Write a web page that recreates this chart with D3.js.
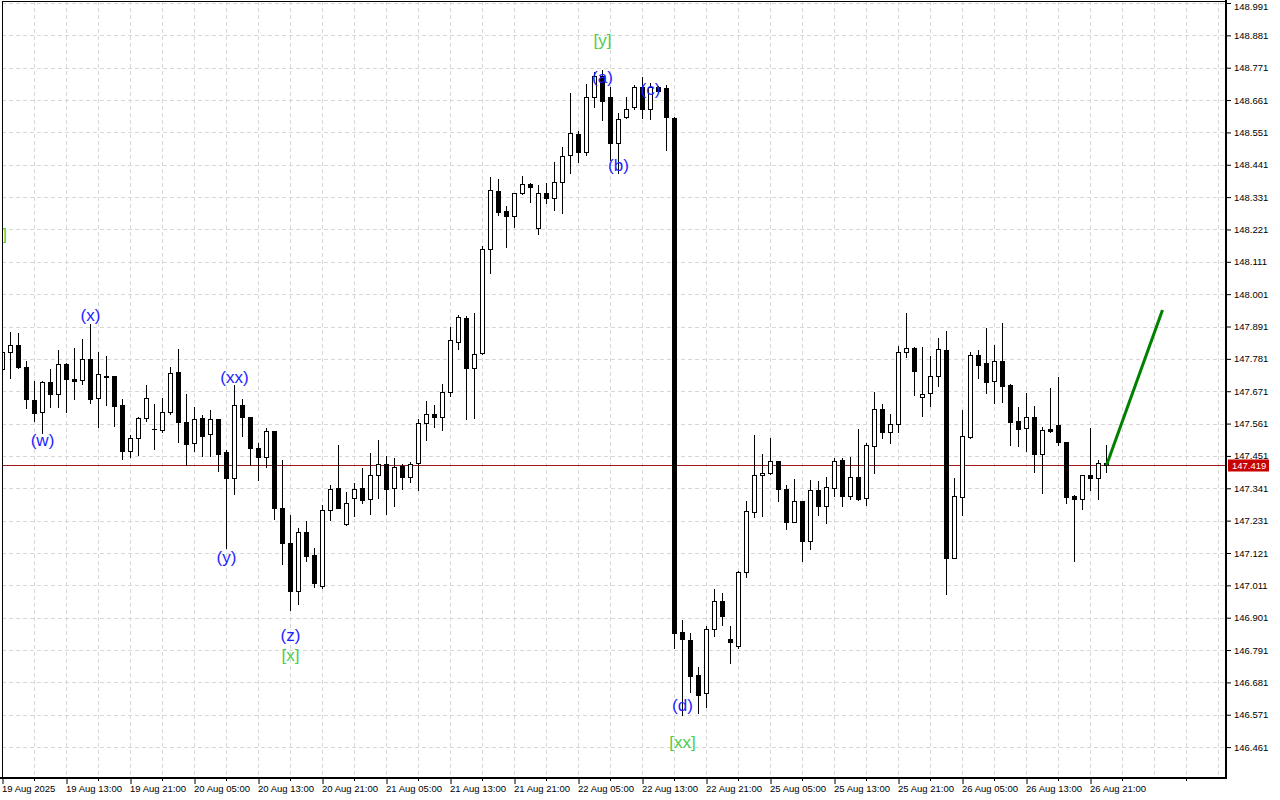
<!DOCTYPE html>
<html>
<head>
<meta charset="utf-8">
<script src="https://cdn.jsdelivr.net/npm/d3@7/dist/d3.min.js"></script>
<style>
  html, body { margin: 0; padding: 0; background: #ffffff; }
  svg { display: block; }
</style>
</head>
<body>
<svg id="chart" width="1280" height="800"></svg>
<script>
// ---------------- DATA ----------------
const priceTicks = [148.991, 148.881, 148.771, 148.661, 148.551, 148.441, 148.331, 148.221, 148.111, 148.001,
  147.891, 147.781, 147.671, 147.561, 147.451, 147.341, 147.231, 147.121, 147.011, 146.901,
  146.791, 146.681, 146.571, 146.461];

const timeLabels = ["19 Aug 2025", "19 Aug 13:00", "19 Aug 21:00", "20 Aug 05:00", "20 Aug 13:00", "20 Aug 21:00",
  "21 Aug 05:00", "21 Aug 13:00", "21 Aug 21:00", "22 Aug 05:00", "22 Aug 13:00", "22 Aug 21:00",
  "25 Aug 05:00", "25 Aug 13:00", "25 Aug 21:00", "26 Aug 05:00", "26 Aug 13:00", "26 Aug 21:00"];

const open = [147.746,147.803,147.828,147.754,147.641,147.599,147.702,147.660,147.762,147.711,
  147.708,147.779,147.649,147.724,147.722,147.624,147.469,147.511,147.579,147.544,
  147.538,147.599,147.735,147.565,147.494,147.579,147.524,147.575,147.464,147.375,
  147.623,147.582,147.477,147.446,147.536,147.273,147.154,146.993,147.191,147.114,
  147.010,147.267,147.341,147.218,147.307,147.341,147.303,147.385,147.422,147.341,
  147.417,147.380,147.426,147.562,147.592,147.584,147.667,147.837,147.919,147.751,
  147.800,148.153,148.352,148.284,148.268,148.344,148.375,148.227,148.344,148.329,
  148.383,148.474,148.545,148.483,148.672,148.743,148.670,148.514,148.602,148.636,
  148.704,148.629,148.704,148.701,148.599,146.851,146.825,146.706,146.644,146.861,
  146.957,146.828,146.806,147.057,147.261,147.385,147.392,147.434,147.338,147.227,
  147.298,147.163,147.335,147.282,147.343,147.437,147.315,147.378,147.307,147.486,
  147.610,147.531,147.558,147.803,147.817,147.652,147.664,147.724,147.811,147.105,
  147.312,147.516,147.794,147.768,147.707,147.774,147.692,147.570,147.545,147.582,
  147.457,147.542,147.556,147.499,147.316,147.303,147.386,147.375,147.428];

const high = [147.869,147.873,147.868,147.774,147.706,147.706,147.745,147.811,147.768,147.817,
  147.847,147.899,147.805,147.791,147.724,147.643,147.522,147.584,147.692,147.627,
  147.647,147.752,147.814,147.661,147.616,147.590,147.607,147.576,147.471,147.692,
  147.643,147.583,147.494,147.545,147.536,147.437,147.250,147.205,147.230,147.137,
  147.284,147.352,147.488,147.327,147.360,147.409,147.462,147.505,147.451,147.443,
  147.422,147.430,147.576,147.638,147.624,147.695,147.890,147.930,147.927,147.938,
  148.165,148.400,148.392,148.302,148.345,148.404,148.380,148.372,148.378,148.451,
  148.502,148.684,148.557,148.715,148.756,148.763,148.704,148.618,148.672,148.711,
  148.740,148.718,148.709,148.712,148.603,146.893,146.848,146.732,146.873,146.997,
  146.984,146.873,147.060,147.298,147.522,147.457,147.513,147.435,147.352,147.372,
  147.299,147.369,147.366,147.380,147.445,147.445,147.448,147.541,147.494,147.669,
  147.627,147.593,147.826,147.938,147.822,147.822,147.792,147.853,147.876,147.375,
  147.607,147.805,147.811,147.885,147.828,147.904,147.695,147.618,147.666,147.621,
  147.548,147.681,147.720,147.500,147.317,147.387,147.545,147.437,147.488];

const low = [147.736,147.717,147.750,147.613,147.571,147.530,147.618,147.618,147.599,147.644,
  147.694,147.632,147.548,147.624,147.553,147.440,147.448,147.454,147.570,147.475,
  147.532,147.592,147.499,147.420,147.469,147.451,147.451,147.401,147.137,147.321,
  147.520,147.420,147.369,147.412,147.235,147.082,146.927,146.946,147.095,147.006,
  147.003,147.233,147.274,147.216,147.247,147.292,147.252,147.309,147.252,147.281,
  147.339,147.363,147.335,147.505,147.550,147.539,147.656,147.814,147.577,147.581,
  147.796,148.074,148.270,148.162,148.230,148.343,148.315,148.204,148.312,148.287,
  148.278,148.412,148.451,148.474,148.638,148.593,148.457,148.412,148.600,148.630,
  148.599,148.595,148.688,148.491,146.799,146.570,146.647,146.576,146.598,146.839,
  146.876,146.748,146.799,147.040,147.244,147.248,147.390,147.299,147.203,147.226,
  147.095,147.134,147.250,147.222,147.315,147.281,147.304,147.302,147.284,147.394,
  147.513,147.496,147.533,147.786,147.658,147.587,147.621,147.689,146.981,147.104,
  147.250,147.513,147.717,147.666,147.632,147.635,147.488,147.485,147.469,147.397,
  147.324,147.533,147.488,147.290,147.095,147.269,147.335,147.303,147.395];

const close = [147.804,147.828,147.754,147.643,147.596,147.702,147.660,147.762,147.711,147.707,
  147.779,147.645,147.728,147.721,147.621,147.469,147.513,147.580,147.647,147.541,
  147.599,147.732,147.565,147.492,147.575,147.520,147.575,147.458,147.375,147.623,
  147.582,147.477,147.446,147.535,147.273,147.154,146.993,147.191,147.112,147.020,
  147.267,147.337,147.275,147.290,147.337,147.300,147.385,147.422,147.339,147.414,
  147.380,147.423,147.562,147.592,147.584,147.667,147.845,147.922,147.751,147.796,
  148.154,148.355,148.281,148.268,148.344,148.375,148.364,148.344,148.329,148.381,
  148.471,148.548,148.483,148.670,148.743,148.659,148.514,148.597,148.631,148.704,
  148.629,148.704,148.693,148.604,146.850,146.827,146.704,146.638,146.861,146.959,
  146.908,146.819,147.057,147.264,147.386,147.394,147.435,147.337,147.227,147.299,
  147.163,147.335,147.282,147.344,147.435,147.315,147.378,147.304,147.488,147.610,
  147.533,147.558,147.803,147.817,147.741,147.660,147.724,147.813,147.105,147.315,
  147.519,147.794,147.760,147.703,147.774,147.690,147.567,147.542,147.582,147.457,
  147.539,147.537,147.497,147.312,147.303,147.386,147.375,147.426,147.419];

// wave labels: text, bar index, price level
const waveText  = ["(w)", "(x)", "(xx)", "(y)", "(z)", "(a)", "(b)", "(c)", "(d)"];
const waveBar   = [5, 11, 29, 28, 36, 75, 77, 81, 85];
const wavePrice = [147.502, 147.927, 147.719, 147.107, 146.839, 148.739, 148.437, 148.698, 146.601];

// major-degree labels (the first one is only partly visible at the left edge in the source)
const majorText  = ["]", "[x]", "[y]", "[xx]"];
const majorBar   = [0.25, 36, 75, 85];
const majorPrice = [148.205, 146.771, 148.865, 146.475];

// projection
const projBar   = [138, 145];
const projPrice = [147.419, 147.947];

// ---------------- CHART ----------------
const svg = d3.select("#chart");
const W = 1280, H = 800;
const plotL = 2, plotR = 1226, plotT = 1, plotB = 778;

svg.append("rect").attr("x", 0).attr("y", 0).attr("width", W).attr("height", H).attr("fill", "#ffffff");

const x = d3.scaleLinear().domain([0, 1]).range([2.5, 10.5]);
const y = d3.scaleLinear().domain([146.461, 148.991]).range([747.1, 3]);
const py = v => Math.round(y(v)) + 0.5;

svg.append("defs").append("clipPath").attr("id", "clip")
  .append("rect").attr("x", plotL).attr("y", plotT).attr("width", plotR - plotL).attr("height", plotB - plotT);

const plot = svg.append("g").attr("clip-path", "url(#clip)");

// grid
const gridColor = "#d8d8d8";
plot.append("g").selectAll("line").data(priceTicks).join("line")
  .attr("x1", plotL).attr("x2", plotR)
  .attr("y1", d => py(d)).attr("y2", d => py(d))
  .attr("stroke", gridColor).attr("stroke-width", 1).attr("stroke-dasharray", "4,3");

const vGrid = d3.range(0, 153, 4);
plot.append("g").selectAll("line").data(vGrid).join("line")
  .attr("x1", d => x(d)).attr("x2", d => x(d))
  .attr("y1", plotT).attr("y2", plotB)
  .attr("stroke", gridColor).attr("stroke-width", 1).attr("stroke-dasharray", "4,3");

// current price line
const last = close[close.length - 1];
plot.append("line")
  .attr("x1", plotL).attr("x2", plotR)
  .attr("y1", py(last)).attr("y2", py(last))
  .attr("stroke", "#a01c1c").attr("stroke-width", 1);

// candles
const idx = d3.range(open.length);
const cg = plot.append("g");
cg.selectAll("line.wick").data(idx).join("line").attr("class", "wick")
  .attr("x1", i => x(i)).attr("x2", i => x(i))
  .attr("y1", i => py(high[i]) - 0.5).attr("y2", i => py(low[i]) + 0.5)
  .attr("stroke", "#000").attr("stroke-width", 1);

cg.selectAll("rect.body").data(idx).join("rect").attr("class", "body")
  .attr("x", i => x(i) - 2)
  .attr("width", 4)
  .attr("y", i => Math.min(py(open[i]), py(close[i])))
  .attr("height", i => Math.max(0.01, Math.abs(py(open[i]) - py(close[i]))))
  .attr("fill", i => close[i] >= open[i] ? "#ffffff" : "#000000")
  .attr("stroke", "#000").attr("stroke-width", 1);

// projection line
const line = d3.line().x(d => x(d[0])).y(d => y(d[1]));
plot.append("path")
  .datum(projBar.map((b, k) => [b, projPrice[k]]))
  .attr("d", line)
  .attr("fill", "none").attr("stroke", "#008000").attr("stroke-width", 3);

// wave labels
const lblFont = "'Liberation Sans', Arial, sans-serif";
plot.append("g").selectAll("text").data(waveText).join("text")
  .attr("x", (d, k) => x(waveBar[k]))
  .attr("y", (d, k) => y(wavePrice[k]))
  .attr("text-anchor", "middle").attr("dominant-baseline", "central")
  .attr("font-family", lblFont).attr("font-size", 17)
  .attr("fill", "#1e1eff").text(d => d);

plot.append("g").selectAll("text").data(majorText).join("text")
  .attr("x", (d, k) => x(majorBar[k]))
  .attr("y", (d, k) => y(majorPrice[k]))
  .attr("text-anchor", "middle").attr("dominant-baseline", "central")
  .attr("font-family", lblFont).attr("font-size", 17)
  .attr("fill", "#4ccd4c").text(d => d);

// frame
svg.append("rect").attr("x", plotL + 0.5).attr("y", plotT + 0.5)
  .attr("width", plotR - plotL - 1).attr("height", plotB - plotT - 1)
  .attr("fill", "none").attr("stroke", "#000").attr("stroke-width", 1);
svg.append("line").attr("x1", plotR).attr("x2", plotR).attr("y1", 0).attr("y2", plotB + 1)
  .attr("stroke", "#000").attr("stroke-width", 2);
svg.append("line").attr("x1", 0).attr("x2", plotR + 1).attr("y1", plotB).attr("y2", plotB)
  .attr("stroke", "#000").attr("stroke-width", 2);

// axes
const axFont = "'Liberation Sans', Arial, sans-serif";
const yAxis = d3.axisRight(y).tickValues(priceTicks).tickSize(4).tickPadding(3)
  .tickFormat(d3.format(".3f"));
const gy = svg.append("g").attr("transform", `translate(${plotR + 1},0)`).call(yAxis);
gy.select(".domain").remove();
gy.selectAll(".tick line").attr("stroke", "#000");
gy.selectAll("text").attr("font-family", axFont).attr("font-size", 9.5).attr("fill", "#000")
  .attr("dy", (d, k) => k === 0 ? "0.7em" : "0.32em");

const xTickIdx = timeLabels.map((t, k) => k * 8);
const xAxis = d3.axisBottom(x).tickValues(xTickIdx).tickSize(5)
  .tickFormat((d, k) => timeLabels[k]);
const gx = svg.append("g").attr("transform", `translate(0,${plotB + 1})`).call(xAxis);
gx.select(".domain").remove();
gx.selectAll(".tick line").attr("stroke", "#000");
gx.selectAll("text").attr("font-family", axFont).attr("font-size", 9.5).attr("fill", "#000")
  .attr("text-anchor", "start").attr("dx", -1).attr("dy", "0.5em");

// minor x ticks
svg.append("g").selectAll("line").data(d3.range(4, 153, 8)).join("line")
  .attr("x1", d => x(d)).attr("x2", d => x(d))
  .attr("y1", plotB + 1).attr("y2", plotB + 3).attr("stroke", "#000");

// price tag
const tag = svg.append("g").attr("transform", `translate(${plotR + 2},${py(last)})`);
tag.append("rect").attr("x", 0).attr("y", -6).attr("width", 41).attr("height", 12).attr("fill", "#c80000");
tag.append("text").attr("x", 4).attr("y", 0).attr("dominant-baseline", "central")
  .attr("font-family", axFont).attr("font-size", 9.5).attr("fill", "#ffffff").text(d3.format(".3f")(last));
</script>
</body>
</html>
